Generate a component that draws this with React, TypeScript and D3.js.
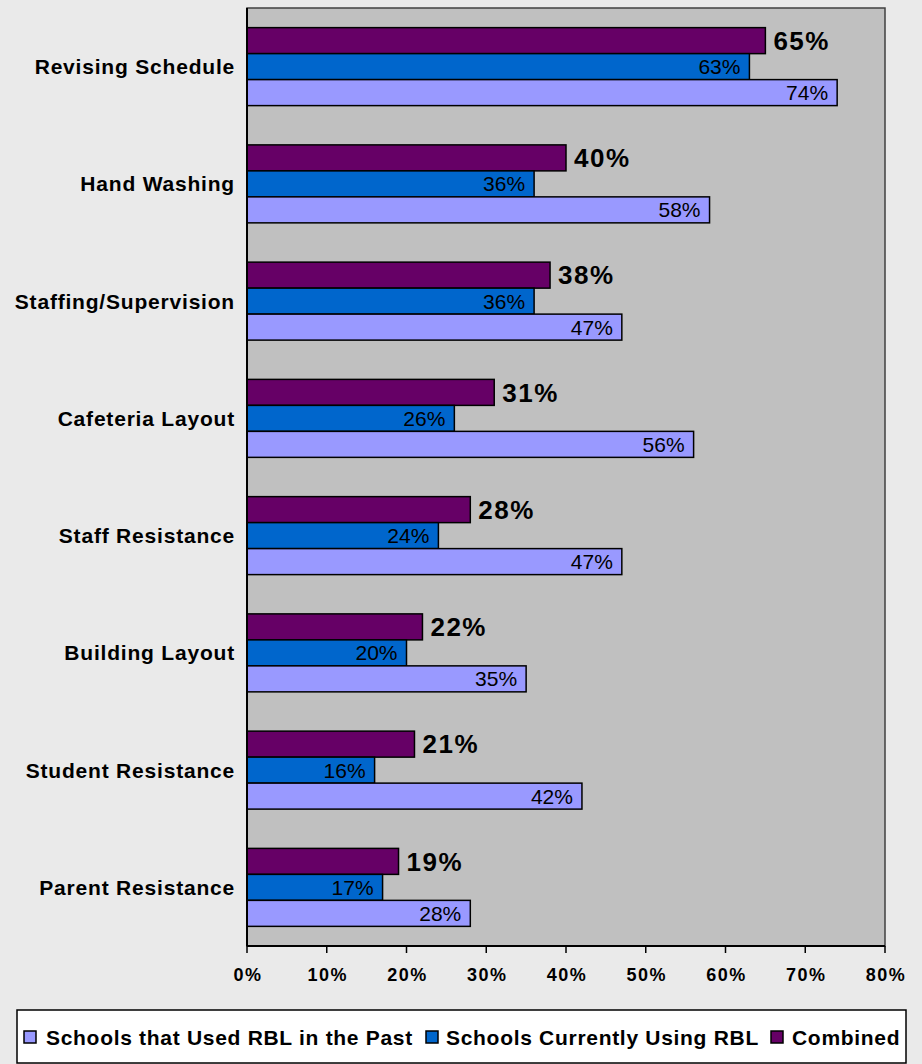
import React from 'react'
import * as d3 from 'd3'

const categories = [
  'Revising Schedule',
  'Hand Washing',
  'Staffing/Supervision',
  'Cafeteria Layout',
  'Staff Resistance',
  'Building Layout',
  'Student Resistance',
  'Parent Resistance'
]
const combined = [65, 40, 38, 31, 28, 22, 21, 19]
const current = [63, 36, 36, 26, 24, 20, 16, 17]
const past = [74, 58, 47, 56, 47, 35, 42, 28]
const xTicks = [0, 10, 20, 30, 40, 50, 60, 70, 80]

const seriesNames = ['Combined', 'Schools Currently Using RBL', 'Schools that Used RBL in the Past']
const seriesColors = ['#660066', '#0066CC', '#9999FF']
const legendOrder = [2, 1, 0]

export default function App() {
  const width = 922
  const height = 1064
  const plot = { left: 247, right: 885, top: 8, bottom: 946 }
  const font = 'Arial, "Liberation Sans", sans-serif'

  const x = d3.scaleLinear().domain([0, 80]).range([plot.left, plot.right])
  const y = d3.scaleBand<string>()
    .domain(categories)
    .range([plot.top, plot.bottom])
    .paddingInner(0.335)
    .paddingOuter(0.1675)
  const inner = d3.scaleBand<number>()
    .domain([0, 1, 2])
    .range([0, y.bandwidth()])

  const series = [combined, current, past]

  // legend item positions: square x, text x
  const legendItems = [
    { sx: 24, tx: 46 },
    { sx: 426, tx: 446 },
    { sx: 771, tx: 792 }
  ]

  return (
    <div style={{ position: 'absolute', left: 0, top: 0 }}>
      <svg width={width} height={height} style={{ display: 'block', fontFamily: font }}>
        <rect x={0} y={0} width={width} height={height} fill="#EAEAEA" />
        <rect x={plot.left} y={plot.top} width={plot.right - plot.left} height={plot.bottom - plot.top}
          fill="#C0C0C0" stroke="#404040" strokeWidth={1.5} />

        {categories.map((c, ci) => {
          const y0 = y(c) ?? 0
          return (
            <g key={c}>
              {series.map((vals, si) => {
                const by = y0 + (inner(si) ?? 0)
                const bh = inner.bandwidth()
                const v = vals[ci]
                return (
                  <g key={si}>
                    <rect x={x(0)} y={by} width={x(v) - x(0)} height={bh}
                      fill={seriesColors[si]} stroke="#000" strokeWidth={1.5} />
                    {si === 0 ? (
                      <text x={x(v) + 8} y={by + bh / 2} dy="0.36em" fontSize={26}
                        fontWeight="bold" letterSpacing={1.5} fill="#000">{v}%</text>
                    ) : (
                      <text x={x(v) - 9} y={by + bh / 2} dy="0.36em" fontSize={21}
                        textAnchor="end" fill="#000">{v}%</text>
                    )}
                  </g>
                )
              })}
              <text x={235} y={y0 + y.bandwidth() / 2} dy="0.36em" textAnchor="end"
                fontSize={21} fontWeight="bold" letterSpacing={0.8} fill="#000">{c}</text>
            </g>
          )
        })}

        <line x1={plot.left} x2={plot.left} y1={plot.top} y2={plot.bottom} stroke="#000" strokeWidth={2} />
        <line x1={plot.left} x2={plot.right} y1={plot.bottom} y2={plot.bottom} stroke="#000" strokeWidth={2} />
        {xTicks.map(t => (
          <g key={t}>
            <line x1={x(t)} x2={x(t)} y1={plot.bottom} y2={plot.bottom + 7} stroke="#000" strokeWidth={1.5} />
            <text x={x(t) + 1} y={975} dy="0.36em" textAnchor="middle" fontSize={18}
              fontWeight="bold" letterSpacing={1.5} fill="#000">{t}%</text>
          </g>
        ))}

        <rect x={17} y={1010} width={889} height={53} fill="#FFFFFF" stroke="#000" strokeWidth={1.5} />
        {legendOrder.map((si, i) => (
          <g key={si}>
            <rect x={legendItems[i].sx} y={1031} width={12} height={12}
              fill={seriesColors[si]} stroke="#000" strokeWidth={1.5} />
            <text x={legendItems[i].tx} y={1037} dy="0.36em" fontSize={21}
              fontWeight="bold" letterSpacing={0.7} fill="#000">{seriesNames[si]}</text>
          </g>
        ))}
      </svg>
    </div>
  )
}
